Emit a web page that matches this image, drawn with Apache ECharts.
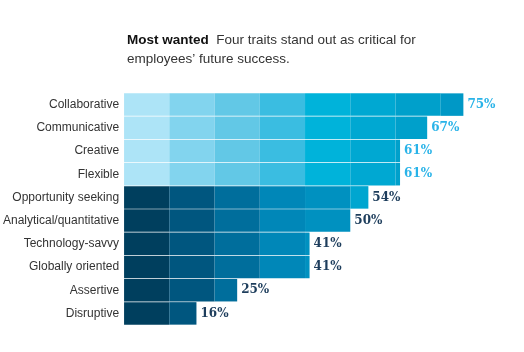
<!DOCTYPE html>
<html>
<head>
<meta charset="utf-8">
<script src="https://cdn.jsdelivr.net/npm/echarts@6/dist/echarts.min.js"></script>
<style>
  html, body { margin: 0; padding: 0; background: #fff; }
  #chart { width: 524px; height: 352px; }
</style>
</head>
<body>
<div id="chart"></div>
<script>
// data
const categories = [
  'Collaborative', 'Communicative', 'Creative', 'Flexible',
  'Opportunity seeking', 'Analytical/quantitative', 'Technology-savvy',
  'Globally oriented', 'Assertive', 'Disruptive'
]
const values = [75, 67, 61, 61, 54, 50, 41, 41, 25, 16]
const topCount = 4 // first four traits are highlighted
const bandSize = 10

// one colour per 10% band
const lightBands = ['#ade4f7', '#82d4ee', '#62c8e6', '#3abde1', '#00b3da', '#00a8d2', '#00a0cb', '#0098c6']
const darkBands = ['#003f5e', '#00567f', '#006e9c', '#0087b8', '#0091c0', '#00a6d0', '#00a6d0', '#00a6d0']

const chart = echarts.init(document.getElementById('chart'))

const bandSeries = lightBands.map((c, i) => ({
  type: 'bar',
  stack: 'bands',
  barCategoryGap: '3%',
  silent: true,
  data: values.map((v, k) => ({
    value: Math.max(0, Math.min(bandSize, v - i * bandSize)),
    itemStyle: { color: k < topCount ? lightBands[i] : darkBands[i] }
  }))
}))

chart.setOption({
  animation: false,
  title: {
    left: 127,
    top: 31,
    padding: 0,
    text: '{b|Most wanted}  Four traits stand out as critical for\nemployees\u2019 future success.',
    textStyle: {
      fontFamily: 'Liberation Sans',
      fontSize: 13.5,
      fontWeight: 'normal',
      color: '#333',
      lineHeight: 19,
      rich: {
        b: { fontFamily: 'Liberation Sans', fontSize: 13.5, fontWeight: 'bold', color: '#111', lineHeight: 19 }
      }
    }
  },
  grid: { left: 123, right: 38, top: 93, bottom: 27 },
  xAxis: {
    type: 'value',
    min: 0,
    max: 80,
    show: false
  },
  yAxis: {
    type: 'category',
    inverse: true,
    data: categories,
    axisLine: { show: false },
    axisTick: { show: false },
    axisLabel: {
      margin: 5,
      fontFamily: 'Liberation Sans',
      fontSize: 12,
      color: '#333'
    }
  },
  series: bandSeries.concat([{
    type: 'bar',
    barGap: '-100%',
    barCategoryGap: '3%',
    silent: true,
    z: 1,
    data: values.map((v, k) => ({
      value: v,
      label: { color: k < topCount ? '#29b3e8' : '#1d3d5c' }
    })),
    itemStyle: { color: 'rgba(0,0,0,0)' },
    label: {
      show: true,
      position: 'right',
      distance: 4,
      formatter: '{c}%',
      fontFamily: 'DejaVu Serif',
      fontWeight: 'bold',
      fontSize: 12
    }
  }])
})
</script>
</body>
</html>
